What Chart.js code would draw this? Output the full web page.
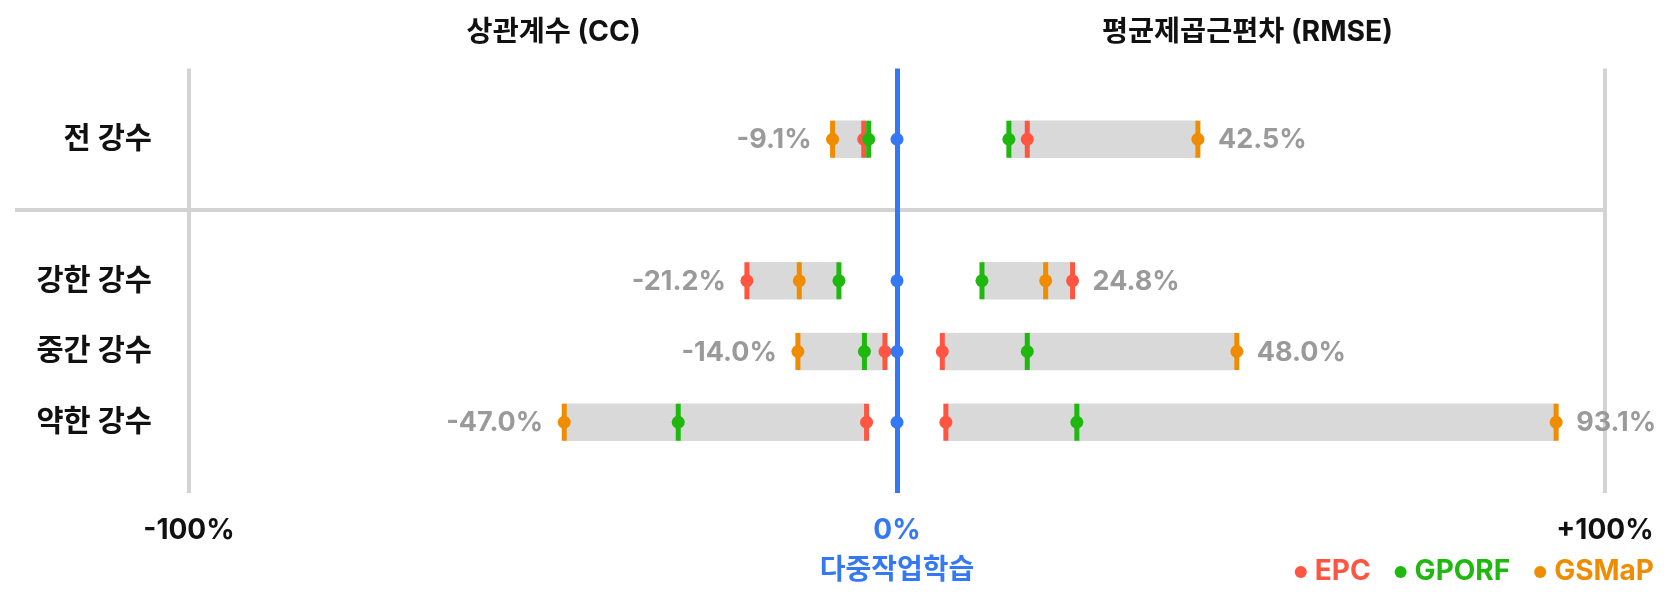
<!DOCTYPE html>
<html lang="ko">
<head>
<meta charset="utf-8">
<title>다중작업학습 대비 성능 차이</title>
<script src="https://cdn.jsdelivr.net/npm/chart.js@4/dist/chart.umd.min.js"></script>
<style>
  html, body { margin: 0; padding: 0; background: #fff; }
  #wrap { width: 1680px; height: 609px; }
</style>
</head>
<body>
<div id="wrap"><canvas id="diffChart" width="1680" height="609"></canvas></div>
<script>
// rows (y position 1 is the gap with the separator line)
const rowLabels = ['전 강수', '강한 강수', '중간 강수', '약한 강수'];
const rowPos = [0, 2, 3, 4];

// difference vs. 다중작업학습 (%), order follows rowLabels
const epcCC = [-4.7, -21.2, -1.7, -4.3];
const epcRMSE = [18.4, 24.8, 6.4, 6.9];
const gporfCC = [-4.0, -8.2, -4.6, -30.9];
const gporfRMSE = [15.8, 12.0, 18.4, 25.4];
const gsmapCC = [-9.1, -13.8, -14.0, -47.0];
const gsmapRMSE = [42.5, 21.0, 48.0, 93.1];

const xTicks = [-100, 0, 100];
const xTickLabels = ['-100%', '0%', '+100%'];

const sources = [
  { name: 'EPC', cc: epcCC, rmse: epcRMSE, color: '#ff5541' },
  { name: 'GPORF', cc: gporfCC, rmse: gporfRMSE, color: '#1fb80e' },
  { name: 'GSMaP', cc: gsmapCC, rmse: gsmapRMSE, color: '#f08c00' },
];

const BLUE = '#3478f6';
const GRID = '#d3d3d3';
const FONT = "Inter, 'Noto Sans CJK KR', sans-serif";

Chart.defaults.font.family = FONT;

const toPoints = (cc, rmse) => [
  ...cc.map((v, i) => ({ x: v, y: rowPos[i] })),
  ...rmse.map((v, i) => ({ x: v, y: rowPos[i] })),
];

const rangeOf = key =>
  rowPos.map((y, i) => {
    const vals = sources.map(s => s[key][i]);
    return { x: [Math.min(...vals), Math.max(...vals)], y };
  });

const ccRanges = rangeOf('cc');
const rmseRanges = rangeOf('rmse');

const isZero = ctx => !!(ctx.tick && ctx.tick.value === 0);

// gray bands behind the markers
const datasets = [
  { type: 'bar', indexAxis: 'y', data: ccRanges, backgroundColor: '#d9d9d9',
    borderWidth: 0, barThickness: 37, grouped: false, order: 100 },
  { type: 'bar', indexAxis: 'y', data: rmseRanges, backgroundColor: '#d9d9d9',
    borderWidth: 0, barThickness: 37, grouped: false, order: 100 },
];

// each source = vertical tick + dot, later sources drawn on top
sources.forEach((s, k) => {
  const pts = toPoints(s.cc, s.rmse);
  datasets.push({
    type: 'scatter', label: s.name + ' tick', data: pts,
    pointStyle: 'line', rotation: 90, radius: 18.5, borderWidth: 5,
    borderColor: s.color, backgroundColor: s.color, order: 50 - k * 10,
  });
  datasets.push({
    type: 'scatter', label: s.name, data: pts,
    pointStyle: 'circle', radius: 6.5, borderWidth: 0,
    backgroundColor: s.color, order: 45 - k * 10,
  });
});

datasets.push({
  type: 'scatter', label: '다중작업학습', data: rowPos.map(y => ({ x: 0, y })),
  pointStyle: 'circle', radius: 6.5, borderWidth: 0, backgroundColor: BLUE, order: 1,
});

const fmt = v => v.toFixed(1) + '%';

const extrasPlugin = {
  id: 'extras',
  beforeDraw(chart) {
    // separator under "전 강수"
    const { ctx, chartArea, scales } = chart;
    const y = scales.y.getPixelForValue(1);
    ctx.save();
    ctx.strokeStyle = GRID;
    ctx.lineWidth = 4;
    ctx.beginPath();
    ctx.moveTo(15, y);
    ctx.lineTo(chartArea.right, y);
    ctx.stroke();
    ctx.restore();
  },
  afterDraw(chart) {
    const { ctx, scales } = chart;
    const x = scales.x;
    ctx.save();

    // column titles
    ctx.fillStyle = '#111';
    ctx.font = `bold 28.3px ${FONT}`;
    ctx.textAlign = 'center';
    ctx.textBaseline = 'middle';
    ctx.fillText('상관계수 (CC)', x.getPixelForValue(-48.5), 32);
    ctx.fillText('평균제곱근편차 (RMSE)', x.getPixelForValue(49.5), 32);

    // extreme value labels
    ctx.fillStyle = '#9a9a9a';
    ctx.font = `bold 27px ${FONT}`;
    rowPos.forEach((r, i) => {
      const yy = scales.y.getPixelForValue(r);
      const lo = ccRanges[i].x[0];
      const hi = rmseRanges[i].x[1];
      ctx.textAlign = 'right';
      ctx.fillText(fmt(lo), x.getPixelForValue(lo) - 21, yy + 1);
      ctx.textAlign = 'left';
      ctx.fillText(fmt(hi), x.getPixelForValue(hi) + 20, yy + 1);
    });

    // legend, right aligned
    ctx.font = `bold 28px ${FONT}`;
    ctx.textAlign = 'left';
    const ly = 572;
    const gap = 24;
    const dotGap = 20;
    const widths = sources.map(s => ctx.measureText(s.name).width);
    const total = widths.reduce((a, b) => a + b, 0) + sources.length * dotGap + (sources.length - 1) * gap;
    let lx = 1654 - total;
    sources.forEach((s, k) => {
      ctx.fillStyle = s.color;
      ctx.beginPath();
      ctx.arc(lx + 6, ly, 6, 0, Math.PI * 2);
      ctx.fill();
      ctx.fillText(s.name, lx + dotGap, ly);
      lx += dotGap + widths[k] + gap;
    });
    ctx.restore();
  },
};

new Chart(document.getElementById('diffChart'), {
  type: 'bar',
  data: { datasets },
  options: {
    responsive: false,
    animation: false,
    events: [],
    layout: { padding: { left: 0, right: 75, top: 68.5, bottom: 22 } },
    plugins: { legend: { display: false }, tooltip: { enabled: false } },
    scales: {
      x: {
        type: 'linear', min: -100, max: 100, offset: false,
        afterBuildTicks: scale => { scale.ticks = xTicks.map(v => ({ value: v })); },
        afterFit: scale => { scale.height = 94; },
        ticks: {
          padding: 21,
          font: { size: 28, weight: 'bold' },
          color: ctx => (isZero(ctx) ? BLUE : '#111'),
          callback: v => xTickLabels[xTicks.indexOf(v)],
          maxRotation: 0,
        },
        grid: {
          offset: false,
          drawTicks: false,
          color: ctx => (isZero(ctx) ? BLUE : GRID),
          lineWidth: ctx => (isZero(ctx) ? 5 : 4),
        },
        border: { display: false, color: GRID },
        title: {
          display: true, text: '다중작업학습', color: BLUE,
          font: { size: 28, weight: 'bold' }, padding: { top: 5, bottom: 0 },
        },
      },
      y: {
        type: 'linear', min: -1, max: 5, reverse: true, offset: false,
        afterBuildTicks: scale => { scale.ticks = rowPos.map(v => ({ value: v })); },
        afterFit: scale => { scale.width = 189; },
        ticks: {
          padding: 29,
          font: { size: 29.5, weight: 'bold' },
          color: '#111',
          callback: v => rowLabels[rowPos.indexOf(v)],
        },
        grid: { display: false, offset: false },
        border: { display: false },
      },
    },
  },
  plugins: [extrasPlugin],
});
</script>
</body>
</html>
